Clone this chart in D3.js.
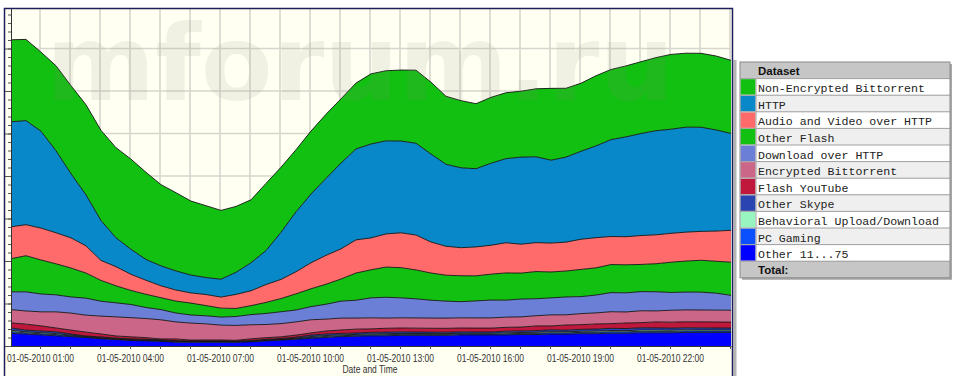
<!DOCTYPE html>
<html><head><meta charset="utf-8">
<script src="https://cdn.jsdelivr.net/npm/d3@7"></script>
<style>html,body{margin:0;padding:0;background:#fff;}svg{display:block}</style>
</head><body>
<svg id="chart" width="956" height="376"></svg>
<script>
// ---------- DATA (Gbps, every 30 min, 01-05-2010 00:02 .. 02-05-2010 00:02) ----------
const seriesNames = ["Non-Encrypted Bittorrent","HTTP","Audio and Video over HTTP","Other Flash",
  "Download over HTTP","Encrypted Bittorrent","Flash YouTube","Other Skype",
  "Behavioral Upload/Download","PC Gaming","Other 11...75"];
const seriesColors = ["#11c011","#0888c8","#ff6b6b","#11c011","#6b7fd6","#cc6688",
  "#c0183c","#2a44b0","#99f5c0","#0a50ff","#0000ff"];

const nonEncryptedBittorrent = [1.93,1.91,1.86,2.00,2.07,2.12,2.12,2.12,2.12,2.05,1.91,1.84,1.74,1.69,1.62,1.55,1.48,1.58,1.53,1.46,1.48,1.51,1.51,1.55,1.65,1.65,1.67,1.72,1.69,1.60,1.58,1.53,1.55,1.55,1.55,1.60,1.69,1.62,1.60,1.65,1.65,1.67,1.69,1.72,1.76,1.74,1.74,1.74,1.72];
const http = [2.47,2.45,2.28,1.93,1.51,1.20,0.94,0.68,0.59,0.49,0.47,0.45,0.42,0.40,0.42,0.52,0.66,0.80,1.11,1.41,1.62,1.81,2.02,2.14,2.21,2.19,2.16,2.16,2.07,1.93,1.88,1.84,1.93,1.98,2.05,2.02,1.95,2.00,2.07,2.16,2.28,2.35,2.40,2.45,2.45,2.47,2.45,2.38,2.28];
const audioVideoHttp = [0.75,0.73,0.75,0.73,0.71,0.64,0.47,0.45,0.38,0.33,0.28,0.26,0.24,0.26,0.26,0.33,0.35,0.42,0.45,0.52,0.61,0.68,0.71,0.78,0.75,0.78,0.82,0.82,0.73,0.68,0.66,0.68,0.68,0.71,0.68,0.68,0.68,0.68,0.71,0.71,0.66,0.66,0.68,0.68,0.68,0.68,0.68,0.71,0.75];
const otherFlash = [0.78,0.85,0.80,0.73,0.68,0.59,0.49,0.40,0.33,0.31,0.28,0.28,0.28,0.24,0.21,0.19,0.21,0.26,0.31,0.38,0.42,0.47,0.52,0.64,0.66,0.71,0.71,0.68,0.64,0.61,0.61,0.59,0.61,0.64,0.61,0.64,0.61,0.61,0.64,0.64,0.66,0.66,0.64,0.66,0.71,0.73,0.75,0.75,0.78];
const downloadHttp = [0.42,0.45,0.42,0.40,0.38,0.40,0.35,0.33,0.31,0.26,0.24,0.21,0.19,0.19,0.19,0.21,0.24,0.26,0.28,0.28,0.31,0.35,0.40,0.42,0.47,0.49,0.47,0.45,0.42,0.40,0.38,0.40,0.42,0.40,0.42,0.40,0.40,0.42,0.40,0.42,0.45,0.45,0.45,0.45,0.42,0.42,0.42,0.40,0.35];
const encryptedBittorrent = [0.31,0.31,0.33,0.38,0.40,0.40,0.42,0.45,0.45,0.45,0.45,0.40,0.40,0.38,0.35,0.35,0.33,0.31,0.31,0.31,0.31,0.28,0.28,0.26,0.26,0.24,0.24,0.24,0.24,0.24,0.24,0.24,0.24,0.24,0.24,0.24,0.26,0.24,0.26,0.26,0.28,0.26,0.28,0.26,0.28,0.28,0.28,0.28,0.28];
const flashYouTube = [0.12,0.14,0.12,0.09,0.09,0.09,0.07,0.05,0.05,0.04,0.02,0.04,0.02,0.02,0.02,0.02,0.04,0.04,0.04,0.05,0.05,0.07,0.08,0.09,0.08,0.09,0.09,0.09,0.09,0.09,0.09,0.09,0.09,0.09,0.09,0.11,0.09,0.12,0.11,0.12,0.11,0.13,0.12,0.14,0.14,0.14,0.14,0.14,0.14];
const otherSkype = [0.056,0.042,0.042,0.042,0.029,0.016,0.019,0.016,0.016,0.016,0.016,0.016,0.013,0.014,0.014,0.011,0.013,0.016,0.016,0.021,0.035,0.037,0.034,0.035,0.037,0.039,0.037,0.036,0.035,0.034,0.033,0.032,0.032,0.040,0.038,0.041,0.046,0.042,0.046,0.049,0.052,0.050,0.053,0.052,0.050,0.049,0.048,0.047,0.046];
const behavioral = [0.031,0.024,0.024,0.024,0.016,0.009,0.011,0.009,0.009,0.009,0.009,0.009,0.007,0.008,0.008,0.006,0.007,0.009,0.009,0.012,0.019,0.021,0.019,0.019,0.021,0.022,0.021,0.020,0.019,0.019,0.018,0.018,0.018,0.022,0.021,0.023,0.025,0.024,0.025,0.027,0.029,0.028,0.030,0.029,0.028,0.027,0.027,0.026,0.025];
const pcGaming = [0.038,0.028,0.028,0.028,0.019,0.011,0.013,0.011,0.011,0.011,0.011,0.011,0.009,0.009,0.009,0.007,0.009,0.011,0.011,0.014,0.023,0.025,0.023,0.023,0.025,0.026,0.025,0.024,0.023,0.023,0.022,0.021,0.021,0.027,0.026,0.028,0.031,0.028,0.031,0.033,0.035,0.033,0.036,0.035,0.033,0.033,0.032,0.031,0.031];
const other11to75 = [0.30,0.28,0.26,0.24,0.22,0.20,0.17,0.15,0.13,0.12,0.11,0.09,0.09,0.09,0.09,0.09,0.10,0.12,0.14,0.16,0.18,0.20,0.22,0.23,0.24,0.24,0.25,0.25,0.25,0.25,0.26,0.26,0.26,0.26,0.27,0.27,0.28,0.28,0.29,0.29,0.30,0.30,0.31,0.31,0.31,0.32,0.32,0.32,0.32];

const seriesValues = [nonEncryptedBittorrent, http, audioVideoHttp, otherFlash, downloadHttp,
  encryptedBittorrent, flashYouTube, otherSkype, behavioral, pcGaming, other11to75];

const tickLabelHours = [1,4,7,10,13,16,19,22];
const xAxisTitle = "Date and Time";
const legendTitle = "Dataset";
const legendTotal = "Total:";
const watermark = "mforum.ru";

// ---------- BUILD ----------
const start = new Date(2010, 4, 1, 0, 2);
const times = nonEncryptedBittorrent.map((_, i) => d3.timeMinute.offset(start, i * 30));
const table = times.map((t, i) => {
  const row = { t };
  seriesNames.forEach((n, k) => row[n] = seriesValues[k][i]);
  return row;
});
const stackKeys = seriesNames.slice().reverse();
const stacked = d3.stack().keys(stackKeys)(table);
const colorOf = d3.scaleOrdinal().domain(seriesNames).range(seriesColors);

const svg = d3.select("#chart");
const L = 11, R = 731, T = 8, B = 346;

// frame background
svg.append("rect").attr("x", 4).attr("y", 8).attr("width", 729).attr("height", 368).attr("fill", "#fffff2");
// shadow on right
svg.append("rect").attr("x", 733.5).attr("y", 60).attr("width", 3).attr("height", 316).attr("fill", "#b4b4b4");

const x = d3.scaleTime().domain([start, d3.timeMinute.offset(start, 24 * 60)]).range([L, R]);
const y = d3.scaleLinear().domain([0, (B - T) / 42.5]).range([B, T]);

// grid
const grid = svg.append("g");
const hourTicks = d3.timeHour.range(new Date(2010, 4, 1, 1), new Date(2010, 4, 2, 0, 1));
grid.selectAll("line.v").data(hourTicks).join("line")
  .attr("x1", d => Math.round(x(d))).attr("x2", d => Math.round(x(d)))
  .attr("y1", T).attr("y2", B).attr("stroke", "#d6d6ce").attr("stroke-width", 1.6);
grid.selectAll("line.h").data(d3.range(1, 8)).join("line")
  .attr("x1", L).attr("x2", R).attr("y1", d => y(d)).attr("y2", d => y(d))
  .attr("stroke", "#d6d6ce").attr("stroke-width", 1.6);

// areas
const area = d3.area().x(d => x(d.data.t)).y0(d => y(d[0])).y1(d => y(d[1]));
const line = d3.line().x(d => x(d.data.t)).y(d => y(d[1]));
const g = svg.append("g");
g.selectAll("path.a").data(stacked).join("path")
  .attr("d", area).attr("fill", d => colorOf(d.key));
g.selectAll("path.l").data(stacked).join("path")
  .attr("d", line).attr("fill", "none").attr("stroke", "#141414").attr("stroke-width", 0.9);

// watermark
svg.append("text").text(watermark)
  .attr("x", 46).attr("y", 100).attr("textLength", 628).attr("lengthAdjust", "spacingAndGlyphs")
  .attr("font-family", "'DejaVu Sans', sans-serif").attr("font-weight", 700)
  .attr("font-size", 106).attr("fill", "rgba(140,140,120,0.12)");

// axes
const axisColor = "#333";
const yMinor = svg.append("g").attr("transform", `translate(${L},0)`)
  .call(d3.axisLeft(y).tickValues(d3.range(0, 7.95, 0.2)).tickSize(3).tickFormat(""));
const yMajor = svg.append("g").attr("transform", `translate(${L},0)`)
  .call(d3.axisLeft(y).tickValues(d3.range(0, 8, 1)).tickSize(6).tickFormat(""));
[yMinor, yMajor].forEach(a => { a.selectAll("line").attr("stroke", "#555"); a.select(".domain").attr("stroke", axisColor); });

const xMinor = svg.append("g").attr("transform", `translate(0,${B})`)
  .call(d3.axisBottom(x).tickValues(hourTicks).tickSize(3).tickFormat("").tickSizeOuter(0));
xMinor.selectAll("line").attr("stroke", "#555");
xMinor.select(".domain").attr("stroke", axisColor);
const fmt = d3.timeFormat("%d-%m-%Y %H:%M");
const labelTicks = tickLabelHours.map(h => new Date(2010, 4, 1, h));
const xLab = svg.append("g").attr("transform", `translate(0,${B})`)
  .call(d3.axisBottom(x).tickValues(labelTicks).tickSize(3).tickPadding(6).tickFormat(fmt).tickSizeOuter(0));
xLab.select(".domain").remove();
xLab.selectAll("line").attr("stroke", "#555");
xLab.selectAll("text").attr("font-family", "'Liberation Sans', Arial, sans-serif").attr("font-size", 10)
  .attr("fill", "#333").attr("textLength", 67).attr("lengthAdjust", "spacingAndGlyphs");
svg.append("text").text(xAxisTitle).attr("x", 370).attr("y", 373).attr("text-anchor", "middle")
  .attr("font-family", "'Liberation Sans', Arial, sans-serif").attr("font-size", 10).attr("fill", "#333")
  .attr("textLength", 55).attr("lengthAdjust", "spacingAndGlyphs");

// frame border
svg.append("path").attr("d", "M4.5,376V8.5H732.5V376").attr("fill", "none").attr("stroke", "#1e1e5a").attr("stroke-width", 1.5);

// legend
const lx = 740, ly = 62, lw = 210, rh = 16.6;
const leg = svg.append("g");
leg.append("rect").attr("x", lx + 2).attr("y", ly + 2).attr("width", lw).attr("height", rh * 13).attr("fill", "#a8a8a8");
leg.append("rect").attr("x", lx).attr("y", ly).attr("width", lw).attr("height", rh).attr("fill", "#c6c6c6");
leg.append("text").text(legendTitle).attr("x", lx + 18).attr("y", ly + 13).attr("font-family", "'Liberation Sans', Arial, sans-serif")
  .attr("font-weight", "bold").attr("font-size", 11.5).attr("fill", "#111");
const rows = leg.selectAll("g.row").data(seriesNames).join("g").attr("transform", (d, i) => `translate(${lx},${ly + rh * (i + 1)})`);
rows.append("rect").attr("width", lw).attr("height", rh).attr("fill", (d, i) => i % 2 ? "#efefef" : "#ffffff");
rows.append("rect").attr("x", 0.5).attr("y", 0.5).attr("width", 15).attr("height", rh - 1).attr("fill", d => colorOf(d));
rows.append("text").text(d => d).attr("x", 18).attr("y", 13.6)
  .attr("font-family", "'Liberation Mono', 'Courier New', monospace").attr("font-size", 11.6).attr("fill", "#222");
leg.append("rect").attr("x", lx).attr("y", ly + rh * 12).attr("width", lw).attr("height", rh).attr("fill", "#c6c6c6");
leg.append("text").text(legendTotal).attr("x", lx + 18).attr("y", ly + rh * 12 + 13).attr("font-family", "'Liberation Sans', Arial, sans-serif")
  .attr("font-weight", "bold").attr("font-size", 11.5).attr("fill", "#111");
leg.selectAll("line.sep").data(d3.range(1, 13)).join("line")
  .attr("x1", lx).attr("x2", lx + lw).attr("y1", d => ly + rh * d).attr("y2", d => ly + rh * d)
  .attr("stroke", "#a0a0a0").attr("stroke-width", 1);
leg.append("line").attr("x1", lx + 16).attr("x2", lx + 16).attr("y1", ly + rh).attr("y2", ly + rh * 12)
  .attr("stroke", "#a0a0a0");
leg.append("rect").attr("x", lx).attr("y", ly).attr("width", lw).attr("height", rh * 13)
  .attr("fill", "none").attr("stroke", "#8a8a8a").attr("stroke-width", 1);
</script>
</body></html>
